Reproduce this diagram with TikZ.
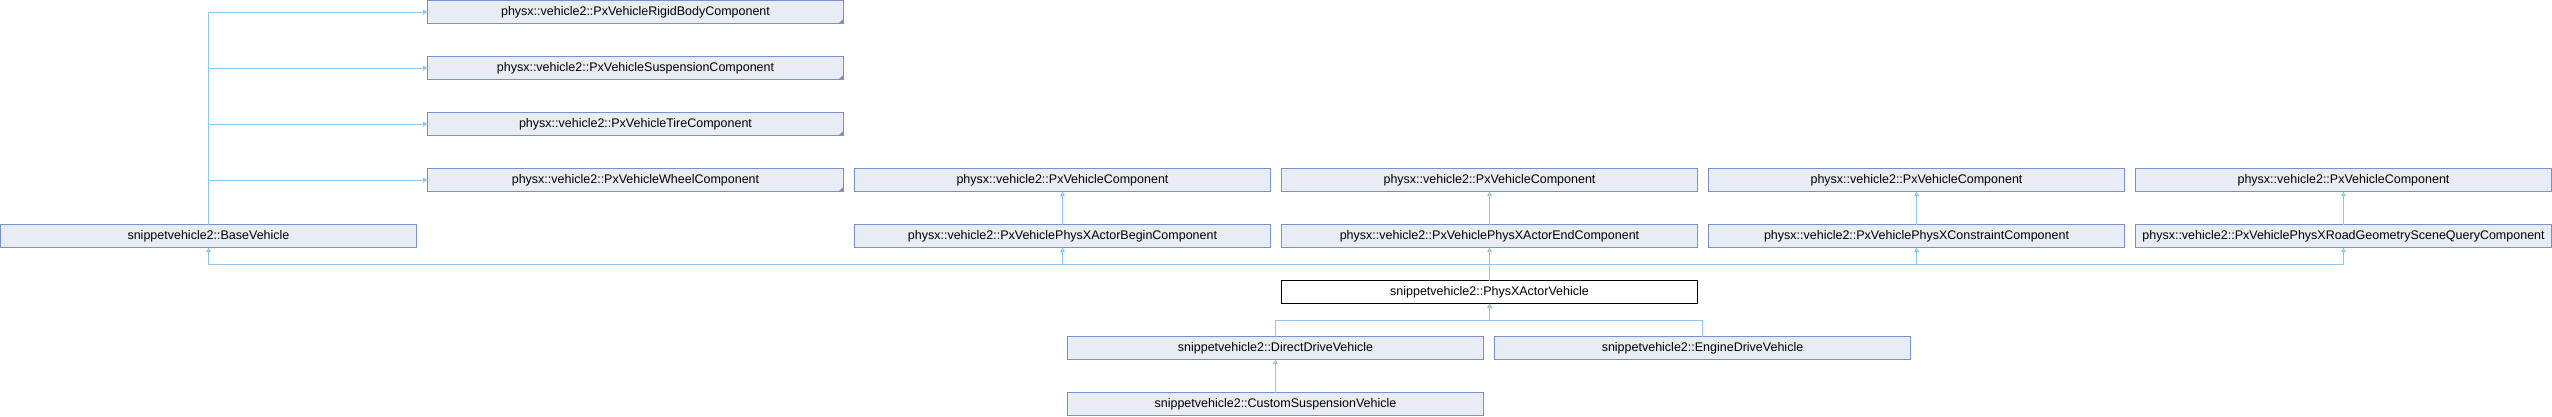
\documentclass[tikz,border=0pt]{standalone}
\usepackage{fontspec}
\setmainfont{Liberation Sans}
\usetikzlibrary{arrows.meta}
\definecolor{bord}{HTML}{7C90C8}
\definecolor{fillc}{HTML}{E8ECF5}
\definecolor{edgec}{HTML}{92C7EA}
\tikzset{
  cls/.style={draw=bord, fill=fillc, line width=1pt, minimum width=416pt, minimum height=23pt,
    inner sep=0pt, outer sep=0pt, anchor=north west, font=\fontsize{12.5}{14}\selectfont},
  mainnode/.style={cls, draw=black, fill=white},
  edge/.style={draw=edgec, line width=1pt, -{Triangle[length=4.5pt,width=4.5pt]}},
  trunc/.style={fill=bord}
}
\begin{document}
\begin{tikzpicture}[x=1pt,y=-1pt]
\useasboundingbox (0,0) rectangle (2552,416);
% column 1 (truncated parents)
\node[cls] (rigid) at (427.5,0.5) {physx::vehicle2::PxVehicleRigidBodyComponent};
\node[cls] (susp)  at (427.5,56.5) {physx::vehicle2::PxVehicleSuspensionComponent};
\node[cls] (tire)  at (427.5,112.5) {physx::vehicle2::PxVehicleTireComponent};
\node[cls] (wheel) at (427.5,168.5) {physx::vehicle2::PxVehicleWheelComponent};
\foreach \n in {rigid,susp,tire,wheel}{
  \fill[trunc] (\n.south east) -- ++(-5,0) -- ++(5,-5) -- cycle;
}
% component row
\node[cls] (compa) at (854.5,168.5) {physx::vehicle2::PxVehicleComponent};
\node[cls] (compb) at (1281.5,168.5) {physx::vehicle2::PxVehicleComponent};
\node[cls] (compc) at (1708.5,168.5) {physx::vehicle2::PxVehicleComponent};
\node[cls] (compd) at (2135.5,168.5) {physx::vehicle2::PxVehicleComponent};
% base row
\node[cls] (base)  at (0.5,224.5) {snippetvehicle2::BaseVehicle};
\node[cls] (begin) at (854.5,224.5) {physx::vehicle2::PxVehiclePhysXActorBeginComponent};
\node[cls] (endc)  at (1281.5,224.5) {physx::vehicle2::PxVehiclePhysXActorEndComponent};
\node[cls] (cons)  at (1708.5,224.5) {physx::vehicle2::PxVehiclePhysXConstraintComponent};
\node[cls] (road)  at (2135.5,224.5) {physx::vehicle2::PxVehiclePhysXRoadGeometrySceneQueryComponent};
% main
\node[mainnode] (pav) at (1281.5,280.5) {snippetvehicle2::PhysXActorVehicle};
% children
\node[cls] (dd) at (1067.5,336.5) {snippetvehicle2::DirectDriveVehicle};
\node[cls] (ed) at (1494.5,336.5) {snippetvehicle2::EngineDriveVehicle};
\node[cls] (cs) at (1067.5,392.5) {snippetvehicle2::CustomSuspensionVehicle};
% edges
\draw[edge] (base.north) |- (rigid.west);
\draw[edge] (base.north) |- (susp.west);
\draw[edge] (base.north) |- (tire.west);
\draw[edge] (base.north) |- (wheel.west);
\draw[edge] (begin.north) -- (compa.south);
\draw[edge] (endc.north) -- (compb.south);
\draw[edge] (cons.north) -- (compc.south);
\draw[edge] (road.north) -- (compd.south);
\draw[edge] (pav.north) -- ++(0,-16.5) -| (base.south);
\draw[edge] (pav.north) -- ++(0,-16.5) -| (begin.south);
\draw[edge] (pav.north) -- (endc.south);
\draw[edge] (pav.north) -- ++(0,-16.5) -| (cons.south);
\draw[edge] (pav.north) -- ++(0,-16.5) -| (road.south);
\draw[edge] (dd.north) -- ++(0,-16) -| (pav.south);
\draw[edge] (ed.north) -- ++(0,-16) -| (pav.south);
\draw[edge] (cs.north) -- (dd.south);
\end{tikzpicture}
\end{document}
